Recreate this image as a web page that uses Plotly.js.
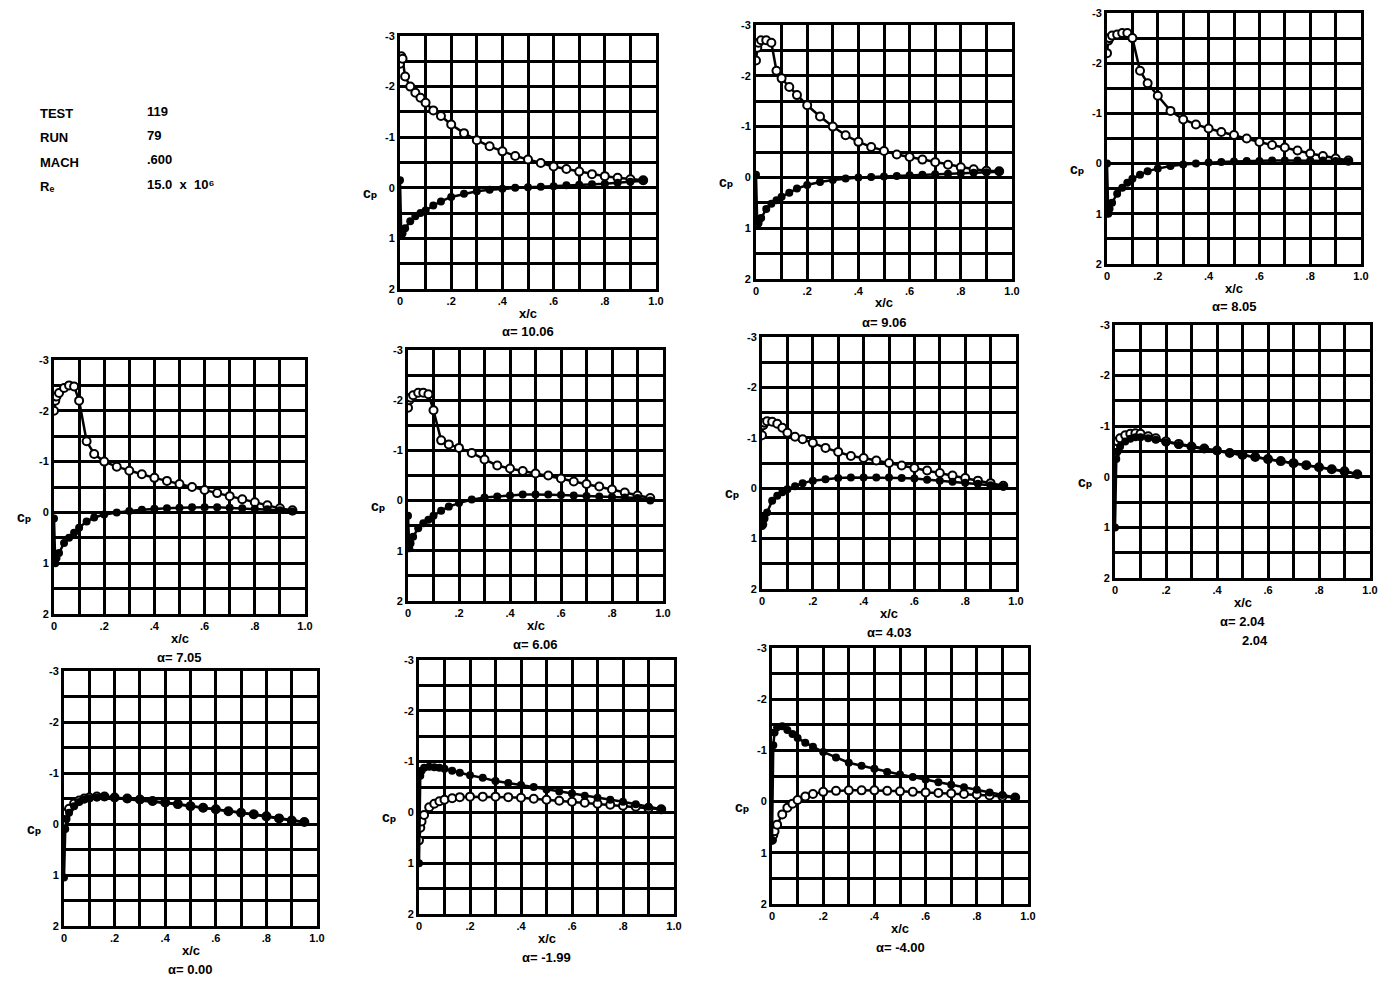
<!DOCTYPE html>
<html>
<head>
<meta charset="utf-8">
<script src="https://cdn.plot.ly/plotly-3.0.1.min.js"></script>
<style>
  html, body { margin: 0; padding: 0; background: #fff; }
  #chart { width: 1400px; height: 994px; }
</style>
</head>
<body>
<div id="chart"></div>
<script>
'use strict'

// chordwise stations x/c (same for both surfaces)

const xc = [0, 0.005, 0.01, 0.02, 0.04, 0.06, 0.08, 0.10, 0.13, 0.16, 0.20, 0.25, 0.30,
  0.35, 0.40, 0.45, 0.50, 0.55, 0.60, 0.65, 0.70, 0.75, 0.80, 0.85, 0.90, 0.95]

// pressure coefficients, upper surface (open) and lower surface (filled)

const up1006 = [-2.45, -2.6, -2.55, -2.2, -2.0, -1.88, -1.78, -1.68, -1.53, -1.42, -1.25, -1.08, -0.94,
  -0.82, -0.72, -0.63, -0.56, -0.49, -0.42, -0.37, -0.32, -0.27, -0.23, -0.2, -0.17, -0.15]
const lo1006 = [-0.15, 0.95, 0.9, 0.8, 0.66, 0.56, 0.5, 0.45, 0.35, 0.27, 0.18, 0.12, 0.07,
  0.04, 0.02, 0.0, -0.01, -0.02, -0.03, -0.05, -0.06, -0.07, -0.08, -0.1, -0.12, -0.14]

const up906 = [-2.3, -2.55, -2.65, -2.7, -2.7, -2.65, -2.1, -1.95, -1.78, -1.62, -1.42, -1.2, -1.0,
  -0.83, -0.7, -0.6, -0.52, -0.45, -0.4, -0.35, -0.3, -0.25, -0.2, -0.16, -0.13, -0.12]
const lo906 = [-0.05, 0.95, 0.9, 0.8, 0.62, 0.52, 0.45, 0.38, 0.3, 0.22, 0.15, 0.09, 0.05,
  0.02, 0.0, -0.01, -0.02, -0.03, -0.04, -0.05, -0.06, -0.07, -0.08, -0.09, -0.1, -0.11]

const up805 = [-2.2, -2.45, -2.5, -2.55, -2.57, -2.6, -2.6, -2.5, -1.85, -1.6, -1.35, -1.05, -0.88,
  -0.78, -0.7, -0.63, -0.57, -0.5, -0.43, -0.37, -0.32, -0.26, -0.2, -0.15, -0.1, -0.06]
const lo805 = [0.0, 1.0, 0.9, 0.78, 0.6, 0.48, 0.38, 0.3, 0.22, 0.15, 0.1, 0.05, 0.02,
  0.0, -0.02, -0.03, -0.04, -0.05, -0.05, -0.06, -0.06, -0.06, -0.06, -0.06, -0.05, -0.04]

const up705 = [-2.0, -2.2, -2.28, -2.35, -2.45, -2.5, -2.48, -2.2, -1.4, -1.15, -1.0, -0.9, -0.82,
  -0.75, -0.68, -0.62, -0.56, -0.5, -0.44, -0.38, -0.32, -0.26, -0.2, -0.14, -0.08, -0.04]
const lo705 = [0.12, 1.0, 0.9, 0.8, 0.6, 0.5, 0.4, 0.3, 0.18, 0.1, 0.04, 0.0, -0.03,
  -0.05, -0.07, -0.08, -0.09, -0.1, -0.1, -0.1, -0.09, -0.08, -0.07, -0.06, -0.04, -0.02]

const up606 = [-1.85, -2.0, -2.05, -2.1, -2.15, -2.15, -2.12, -1.8, -1.2, -1.12, -1.05, -0.95, -0.82,
  -0.7, -0.64, -0.59, -0.54, -0.5, -0.44, -0.38, -0.33, -0.28, -0.22, -0.16, -0.1, -0.05]
const lo606 = [0.3, 0.95, 0.85, 0.72, 0.55, 0.45, 0.38, 0.3, 0.2, 0.12, 0.05, -0.02, -0.06,
  -0.08, -0.1, -0.12, -0.12, -0.12, -0.11, -0.1, -0.09, -0.08, -0.07, -0.06, -0.05, 0.0]

const up403 = [-1.05, -1.25, -1.3, -1.33, -1.32, -1.28, -1.2, -1.1, -1.02, -0.97, -0.9, -0.8, -0.72,
  -0.64, -0.6, -0.55, -0.5, -0.45, -0.4, -0.35, -0.3, -0.25, -0.2, -0.15, -0.1, -0.05]
const lo403 = [0.75, 0.72, 0.6, 0.48, 0.25, 0.15, 0.08, 0.02, -0.04, -0.1, -0.15, -0.18, -0.2,
  -0.21, -0.21, -0.21, -0.21, -0.2, -0.19, -0.17, -0.15, -0.13, -0.11, -0.09, -0.06, -0.03]

const up204 = [-0.45, -0.62, -0.7, -0.76, -0.82, -0.85, -0.86, -0.85, -0.8, -0.76, -0.7, -0.65, -0.6,
  -0.56, -0.52, -0.47, -0.43, -0.39, -0.35, -0.31, -0.27, -0.23, -0.19, -0.15, -0.11, -0.05]
const lo204 = [1.0, -0.35, -0.5, -0.6, -0.7, -0.75, -0.78, -0.78, -0.76, -0.73, -0.68, -0.63, -0.59,
  -0.55, -0.51, -0.47, -0.43, -0.39, -0.35, -0.31, -0.27, -0.23, -0.19, -0.15, -0.11, -0.05]

const up000 = [-0.05, -0.15, -0.22, -0.3, -0.4, -0.46, -0.5, -0.52, -0.54, -0.54, -0.52, -0.5, -0.48,
  -0.45, -0.42, -0.39, -0.35, -0.32, -0.29, -0.25, -0.22, -0.19, -0.15, -0.11, -0.07, -0.04]
const lo000 = [1.05, 0.1, -0.1, -0.22, -0.35, -0.43, -0.48, -0.5, -0.52, -0.53, -0.51, -0.49, -0.47,
  -0.44, -0.41, -0.38, -0.35, -0.31, -0.28, -0.25, -0.22, -0.18, -0.15, -0.11, -0.07, -0.04]

const upm199 = [0.55, 0.3, 0.18, 0.05, -0.1, -0.17, -0.22, -0.25, -0.28, -0.3, -0.31, -0.31, -0.31,
  -0.3, -0.29, -0.27, -0.25, -0.23, -0.21, -0.19, -0.17, -0.15, -0.13, -0.11, -0.08, -0.06]
const lom199 = [1.0, -0.72, -0.82, -0.88, -0.9, -0.89, -0.88, -0.86, -0.82, -0.78, -0.73, -0.68, -0.62,
  -0.58, -0.54, -0.5, -0.45, -0.41, -0.37, -0.33, -0.29, -0.25, -0.21, -0.16, -0.11, -0.06]

const upm400 = [0.75, 0.65, 0.58, 0.45, 0.25, 0.12, 0.04, -0.03, -0.1, -0.15, -0.19, -0.21, -0.22,
  -0.22, -0.22, -0.21, -0.2, -0.19, -0.18, -0.17, -0.16, -0.15, -0.14, -0.12, -0.1, -0.08]
const lom400 = [0.75, -1.1, -1.35, -1.45, -1.47, -1.4, -1.32, -1.24, -1.15, -1.07, -0.97, -0.86, -0.76,
  -0.7, -0.64, -0.58, -0.53, -0.48, -0.43, -0.38, -0.33, -0.28, -0.23, -0.18, -0.13, -0.08]

const alphas = ['10.06', '9.06', '8.05', '7.05', '6.06', '4.03', '2.04', '0.00', '-1.99', '-4.00']
const upper = [up1006, up906, up805, up705, up606, up403, up204, up000, upm199, upm400]
const lower = [lo1006, lo906, lo805, lo705, lo606, lo403, lo204, lo000, lom199, lom400]

// axis ticks (labelled) and the extra grid lines between them

const xTicks = [0, 0.2, 0.4, 0.6, 0.8, 1.0]
const xTickText = ['0', '.2', '.4', '.6', '.8', '1.0']
const xMinor = [0.1, 0.3, 0.5, 0.7, 0.9]
const yTicks = [-3, -2, -1, 0, 1, 2]
const yTickText = ['-3', '-2', '-1', '0', '1', '2']
const yMinor = [-2.5, -1.5, -0.5, 0.5, 1.5]

// run info

const infoLabels = ['TEST', 'RUN', 'MACH', 'Rₑ']
const infoValues = ['119', '79', '.600', '15.0  x  10⁶']

///////////////////////////////////////////////////////

// panel boxes in pixels [left, top, right, bottom]

const W = 1400, H = 994
const boxes = [
  [400, 36, 656, 289], [756, 25, 1012, 279], [1107, 13, 1361, 264],
  [54, 360, 305, 614], [408, 350, 663, 601], [762, 337, 1016, 589], [1115, 325, 1370, 578],
  [64, 671, 317, 926], [419, 660, 674, 914], [772, 648, 1028, 904]
]

const px = p => p / W
const py = p => 1 - p / H

const font = { family: 'Liberation Sans, DejaVu Sans, Arial, sans-serif', color: '#000', weight: 'bold' }

// text placed by its pixel centre (or left edge)
const label = (x, y, text, size, xanchor) => ({
  xref: 'paper', yref: 'paper', x: px(x), y: py(y), text: text,
  xanchor: xanchor || 'center', yanchor: 'middle',
  showarrow: false, font: Object.assign({ size: size }, font)
})

const traces = []
const annotations = []
const layout = {
  width: W,
  height: H,
  margin: { l: 0, r: 0, t: 0, b: 0 },
  paper_bgcolor: '#fff',
  plot_bgcolor: '#fff',
  showlegend: false,
  font: font
}

boxes.forEach((box, i) => {
  let n = i === 0 ? '' : String(i + 1)
  let [l, t, r, b] = box

  let axis = {
    tickmode: 'array',
    ticks: '',
    showgrid: true,
    gridcolor: '#000',
    gridwidth: 3,
    zeroline: false,
    showline: true,
    mirror: true,
    linecolor: '#000',
    linewidth: 3,
    tickfont: Object.assign({ size: 11 }, font),
    fixedrange: true
  }

  layout['xaxis' + n] = Object.assign({
    domain: [px(l), px(r)],
    anchor: 'y' + n,
    range: [0, 1],
    tickvals: xTicks,
    ticktext: xTickText,
    minor: { tickmode: 'array', tickvals: xMinor, ticks: '', showgrid: true, gridcolor: '#000', gridwidth: 3 }
  }, axis)
  layout['yaxis' + n] = Object.assign({
    domain: [py(b), py(t)],
    anchor: 'x' + n,
    range: [2, -3],
    tickvals: yTicks,
    ticktext: yTickText,
    minor: { tickmode: 'array', tickvals: yMinor, ticks: '', showgrid: true, gridcolor: '#000', gridwidth: 3 }
  }, axis)

  let line = { color: '#000', width: 2.5 }

  traces.push({
    type: 'scatter', mode: 'lines+markers',
    x: xc, y: upper[i], xaxis: 'x' + n, yaxis: 'y' + n,
    line: line,
    marker: { symbol: 'circle', size: 8, color: '#fff', line: { color: '#000', width: 2 } },
    hoverinfo: 'none'
  })
  traces.push({
    type: 'scatter', mode: 'lines+markers',
    x: xc, y: lower[i], xaxis: 'x' + n, yaxis: 'y' + n,
    line: line,
    marker: { symbol: 'circle', size: 8, color: '#000' },
    hoverinfo: 'none'
  })

  let cx = (l + r) / 2
  annotations.push(label(cx, b + 24, 'x/c', 13))
  annotations.push(label(cx, b + 43, 'α= ' + alphas[i], 13))
  annotations.push(label(l - 30, t + (b - t) * 0.62, 'cₚ', 14))

  if (alphas[i] === '2.04')
    annotations.push(label(cx + 12, b + 62, alphas[i], 13))
})

// run info block

infoLabels.forEach((text, k) => {
  annotations.push(label(38, 113 + k * 24.5, text, 13, 'left'))
  annotations.push(label(145, 111 + k * 24.5, infoValues[k], 13, 'left'))
})

layout.annotations = annotations

Plotly.newPlot('chart', traces, layout, { displayModeBar: false, staticPlot: true })
</script>
</body>
</html>
